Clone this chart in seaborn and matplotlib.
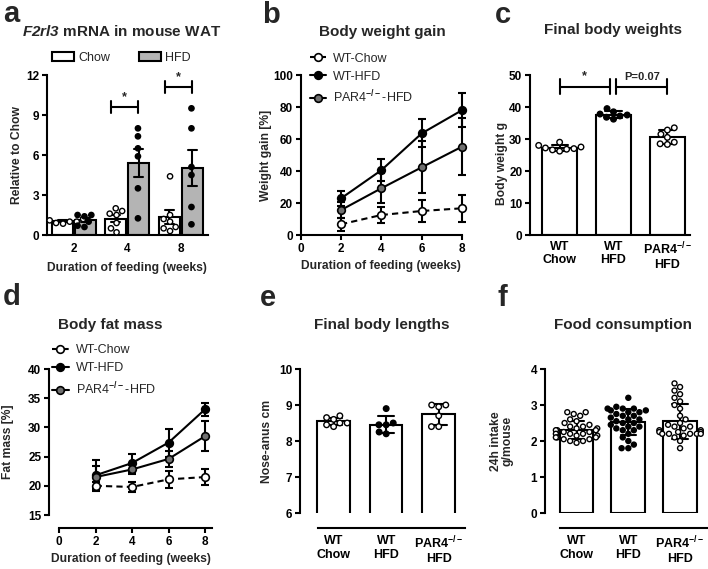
import pandas as pd
import seaborn as sns
import matplotlib.pyplot as plt

# ---- a: F2rl3 mRNA (relative to chow), per mouse ----
a_weeks = ['2', '4', '8']
a_chow = {'2': [0.85, 0.9, 1.0, 1.0, 1.1, 1.2, 1.3],
          '4': [2.0, 1.8, 1.6, 1.5, 0.9, 0.5, 0.2],
          '8': [4.4, 1.5, 1.2, 1.0, 0.6, 0.5, 0.3]}
a_hfd = {'2': [1.5, 1.5, 1.4, 1.0, 0.7, 0.6],
         '4': [8.0, 7.4, 6.5, 5.9, 3.5, 1.25],
         '8': [9.5, 8.0, 5.1, 4.5, 2.1, 0.8]}
a_sig = ['', '*', '*']

# ---- b: body weight gain (%), mean and error ----
b_weeks = [2, 4, 6, 8]
b_chow = [6.7, 12.5, 15.0, 16.7]
b_chow_err = [4.0, 5.2, 6.8, 8.3]
b_hfd = [22.9, 40.5, 63.5, 78.0]
b_hfd_err = [4.6, 6.7, 8.8, 10.5]
b_par4 = [15.6, 29.2, 42.3, 55.2]
b_par4_err = [5.0, 9.4, 16.3, 18.0]

# ---- c: final body weights (g) ----
grp_labels = ['WT\nChow', 'WT\nHFD', 'PAR4$^{-/-}$\nHFD']
c_chow = [29.0, 28.0, 27.5, 27.2, 27.0, 26.8, 26.6, 26.2]
c_hfd = [39.5, 38.5, 37.8, 37.5, 37.2, 36.8, 36.2]
c_par4 = [33.5, 32.8, 31.5, 30.5, 29.0, 28.5, 28.3]
c_sig = ['*', 'P=0.07']

# ---- d: body fat mass (%) ----
d_weeks = [2, 4, 6, 8]
d_chow = [20.0, 19.8, 21.1, 21.5]
d_chow_err = [0.6, 0.8, 1.5, 1.4]
d_hfd = [21.8, 23.9, 27.4, 33.1]
d_hfd_err = [2.7, 1.6, 2.4, 1.1]
d_par4 = [21.5, 22.8, 24.6, 28.5]
d_par4_err = [1.9, 0.8, 1.3, 2.6]

# ---- e: final body lengths (cm) ----
e_chow = [8.7, 8.65, 8.6, 8.5, 8.45, 8.5, 8.4]
e_hfd = [8.9, 8.5, 8.45, 8.45, 8.25, 8.2]
e_par4 = [9.0, 9.0, 8.95, 8.7, 8.4, 8.4]

# ---- f: food consumption (g/mouse per 24h) ----
f_chow = [2.8, 2.8, 2.75, 2.7, 2.6, 2.55, 2.5, 2.45, 2.4, 2.4, 2.35, 2.35, 2.3, 2.3, 2.3,
          2.25, 2.25, 2.2, 2.2, 2.2, 2.15, 2.15, 2.1, 2.1, 2.1, 2.05, 2.05, 2.0, 2.0, 1.95]
f_hfd = [3.2, 2.95, 2.9, 2.9, 2.9, 2.85, 2.85, 2.8, 2.8, 2.75, 2.7, 2.7, 2.65, 2.6, 2.6,
         2.55, 2.5, 2.5, 2.45, 2.4, 2.4, 2.35, 2.3, 2.3, 2.2, 2.1, 2.0, 1.9, 1.8, 1.8]
f_par4 = [3.6, 3.5, 3.4, 3.3, 3.2, 3.1, 3.0, 2.9, 2.7, 2.6, 2.5, 2.45, 2.4, 2.4, 2.35,
          2.3, 2.3, 2.25, 2.25, 2.25, 2.2, 2.2, 2.2, 2.2, 2.2, 2.15, 2.1, 2.0, 1.8]

HFD_GREY = '#b4b4b4'
PAR4_GREY = '#707070'

sns.set_theme(style='ticks')
plt.rcParams['font.family'] = ['Liberation Sans', 'DejaVu Sans']
plt.rcParams.update({
    'font.weight': 'bold', 'axes.labelweight': 'bold',
    'mathtext.fontset': 'custom', 'mathtext.default': 'bf',
    'mathtext.rm': 'Liberation Sans', 'mathtext.bf': 'Liberation Sans:bold',
    'mathtext.it': 'Liberation Sans:italic', 'mathtext.bfit': 'Liberation Sans:italic:bold',
    'axes.linewidth': 1.5, 'axes.edgecolor': 'black',
    'xtick.major.width': 1.5, 'ytick.major.width': 1.5,
    'xtick.major.size': 3.5, 'ytick.major.size': 3.5,
    'xtick.color': 'black', 'ytick.color': 'black',
    'xtick.labelsize': 8.5, 'ytick.labelsize': 8.5, 'axes.labelsize': 8.7,
})

W, H = 708, 569
fig = plt.figure(figsize=(W / 100, H / 100), dpi=100)


def px_axes(l, t, r, b):
    return fig.add_axes([l / W, 1 - b / H, (r - l) / W, (b - t) / H])


def ftext(x, y, s, **kw):
    fig.text(x / W, 1 - y / H, s, **kw)


def style(ax):
    sns.despine(ax=ax)
    ax.tick_params(axis='both', pad=2)


def bracket(ax, x0, x1, y, tick, label, size=9):
    ax.plot([x0, x1], [y, y], color='black', lw=1.5, clip_on=False)
    for xx in (x0, x1):
        ax.plot([xx, xx], [y - tick, y + tick], color='black', lw=1.5, clip_on=False)
    ax.text((x0 + x1) / 2, y + tick * 0.6, label, ha='center', va='bottom', fontsize=size, fontweight='bold')


def group_frame(chow, hfd, par4):
    rows = [(grp_labels[0], v) for v in chow] + [(grp_labels[1], v) for v in hfd] + \
           [(grp_labels[2], v) for v in par4]
    return pd.DataFrame(rows, columns=['group', 'val'])


def group_bars(ax, df, width, dot=4.0):
    sns.barplot(df, x='group', y='val', order=grp_labels, color='white', edgecolor='black',
                linewidth=1.5, width=width, errorbar='sd', capsize=0.3,
                err_kws={'color': 'black', 'linewidth': 1.5}, ax=ax, zorder=2)
    sns.swarmplot(df, x='group', y='val', order=grp_labels, hue='group', hue_order=grp_labels,
                  palette={grp_labels[0]: 'white', grp_labels[1]: 'black', grp_labels[2]: 'white'},
                  size=dot, edgecolor='black', linewidth=1.0, legend=False, ax=ax, zorder=3)
    ax.set_xlabel('')
    ax.tick_params(axis='x', length=0, labelsize=9, pad=4)


def growth(ax, weeks, series):
    for name, mean, err, face, ls in series:
        ax.errorbar(weeks, mean, yerr=err, fmt='none', ecolor='black', elinewidth=1.5,
                    capsize=3, capthick=1.5, zorder=2, clip_on=False)
        sns.lineplot(x=weeks, y=mean, color='black', linestyle=ls, linewidth=1.5, marker='o',
                     markersize=5.5, markerfacecolor=face, markeredgecolor='black',
                     markeredgewidth=1.2, errorbar=None, label=name, ax=ax, zorder=3, clip_on=False)


# ================= a =================
ax = px_axes(47, 75, 207.5, 235)
df_a = pd.DataFrame([(w, 'Chow', v) for w in a_weeks for v in a_chow[w]] +
                    [(w, 'HFD', v) for w in a_weeks for v in a_hfd[w]],
                    columns=['week', 'diet', 'val'])
sns.barplot(df_a, x='week', y='val', hue='diet', order=a_weeks, hue_order=['Chow', 'HFD'],
            palette={'Chow': 'white', 'HFD': HFD_GREY}, edgecolor='black', linewidth=1.5,
            width=0.86, gap=0.1, errorbar='se', capsize=0.35,
            err_kws={'color': 'black', 'linewidth': 1.5}, ax=ax)
sns.swarmplot(df_a, x='week', y='val', hue='diet', order=a_weeks, hue_order=['Chow', 'HFD'],
              palette={'Chow': 'white', 'HFD': 'black'}, dodge=True, size=3.8,
              edgecolor='black', linewidth=1.0, legend=False, ax=ax)
for i, w in enumerate(a_weeks):
    if a_sig[i]:
        top = max(a_chow[w] + a_hfd[w]) + 1.6
        bracket(ax, i - 0.3, i + 0.21, top, 0.45, a_sig[i])
ax.set_ylim(0, 12)
ax.set_xlim(-0.5, 2.5)
ax.set_yticks([0, 3, 6, 9, 12])
ax.set_xlabel('Duration of feeding (weeks)', labelpad=5)
ax.set_ylabel('Relative to Chow')
ax.yaxis.set_label_coords(-0.15, 0.5)
style(ax)
ax.tick_params(axis='x', length=0, pad=6)
ax.legend(ncol=2, loc='upper left', bbox_to_anchor=(0.03, 1.145), frameon=False,
          prop={'size': 9, 'weight': 'normal'}, handlelength=1.8, handleheight=0.8,
          columnspacing=2.3, handletextpad=0.3, borderpad=0, borderaxespad=0)

# ================= b =================
ax = px_axes(300.7, 75, 462, 235)
growth(ax, b_weeks, [('WT-Chow', b_chow, b_chow_err, 'white', (0, (3, 2))),
                     ('WT-HFD', b_hfd, b_hfd_err, 'black', '-'),
                     ('PAR4$^{-/-}$-HFD', b_par4, b_par4_err, PAR4_GREY, '-')])
ax.set_xlim(0, 8)
ax.set_ylim(0, 100)
ax.set_xticks([0, 2, 4, 6, 8])
ax.set_yticks([0, 20, 40, 60, 80, 100])
ax.set_xlabel('Duration of feeding (weeks)', labelpad=4)
ax.set_ylabel('Weight gain [%]')
ax.yaxis.set_label_coords(-0.178, 0.5)
style(ax)
ax.legend(loc='upper left', bbox_to_anchor=(0.055, 1.14), frameon=False,
          prop={'size': 9, 'weight': 'normal'}, handlelength=1.3, handletextpad=0.6,
          labelspacing=0.5, borderpad=0, borderaxespad=0)

# ================= c =================
ax = px_axes(530, 75, 690, 235)
group_bars(ax, group_frame(c_chow, c_hfd, c_par4), 0.65)
bracket(ax, 0, 0.93, 46.3, 2.3, c_sig[0])
bracket(ax, 1.05, 2.0, 46.3, 2.3, c_sig[1], size=8)
ax.set_ylim(0, 50)
ax.set_xlim(-0.55, 2.42)
ax.set_yticks([0, 10, 20, 30, 40, 50])
ax.set_ylabel('Body weight g')
ax.yaxis.set_label_coords(-0.1375, 0.45)
style(ax)
ax.tick_params(axis='x', length=0, pad=4)

# ================= d =================
ax = px_axes(49, 369, 212, 515)
growth(ax, d_weeks, [('WT-Chow', d_chow, d_chow_err, 'white', (0, (3, 2))),
                     ('WT-HFD', d_hfd, d_hfd_err, 'black', '-'),
                     ('PAR4$^{-/-}$-HFD', d_par4, d_par4_err, PAR4_GREY, '-')])
ax.set_xlim(-0.55, 8.38)
ax.set_ylim(15, 40)
ax.set_xticks([0, 2, 4, 6, 8])
ax.set_yticks([15, 20, 25, 30, 35, 40])
ax.set_xlabel('Duration of feeding (weeks)', labelpad=4)
ax.set_ylabel('Fat mass [%]')
ax.yaxis.set_label_coords(-0.215, 0.5)
style(ax)
ax.spines['bottom'].set_position(('outward', 9.5))
ax.spines['bottom'].set_bounds(0, 8.38)
ax.legend(loc='upper left', bbox_to_anchor=(0.02, 1.17), frameon=False,
          prop={'size': 9, 'weight': 'normal'}, handlelength=1.3, handletextpad=0.6,
          labelspacing=0.5, borderpad=0, borderaxespad=0)

# ================= e =================
ax = px_axes(300, 369, 465, 513)
group_bars(ax, group_frame(e_chow, e_hfd, e_par4), 0.62)
ax.set_ylim(6, 10)
ax.set_xlim(-0.64, 2.5)
ax.set_yticks([6, 7, 8, 9, 10])
ax.set_ylabel('Nose-anus cm')
ax.yaxis.set_label_coords(-0.164, 0.5)
style(ax)
ax.tick_params(axis='x', length=0, pad=5)
ax.spines['bottom'].set_position(('outward', 10.8))
ax.spines['bottom'].set_bounds(-0.3, 2.5)

# ================= f =================
ax = px_axes(545, 369, 708, 513)
group_bars(ax, group_frame(f_chow, f_hfd, f_par4), 0.65, dot=3.6)
ax.set_ylim(0, 4)
ax.set_xlim(-0.61, 2.54)
ax.set_yticks([0, 1, 2, 3, 4])
ax.set_ylabel('24h intake\ng/mouse', linespacing=0.95)
ax.yaxis.set_label_coords(-0.196, 0.5)
style(ax)
ax.tick_params(axis='x', length=0, pad=5)
ax.spines['bottom'].set_position(('outward', 10.8))
ax.spines['bottom'].set_bounds(-0.32, 2.54)

# ---- titles and panel letters ----
tkw = dict(ha='center', va='center', fontsize=11, fontweight='bold')
ftext(122, 31, r'$\mathbfit{F2rl3}$ mRNA in mouse WAT', **tkw)
ftext(382, 32, 'Body weight gain', **tkw)
ftext(613, 30, 'Final body weights', **tkw)
ftext(110, 325, 'Body fat mass', **tkw)
ftext(382, 325, 'Final body lengths', **tkw)
ftext(623, 325, 'Food consumption', **tkw)
lkw = dict(ha='left', va='baseline', fontsize=21, fontweight='bold')
for x, y, s in [(3, 22, 'a'), (262, 23, 'b'), (495, 23, 'c'),
                (3, 305, 'd'), (260, 306, 'e'), (497, 306, 'f')]:
    ftext(x, y, s, **lkw)

fig.savefig('out.png', dpi=100)
